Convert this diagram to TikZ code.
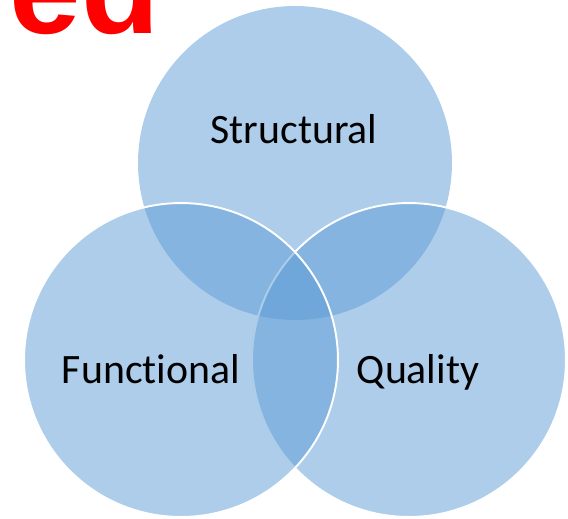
\documentclass[tikz,border=0pt]{standalone}
\usepackage{fontspec}
\setmainfont{Carlito}[Ligatures=NoCommon]
\newfontfamily\headfont{Liberation Sans}
\definecolor{venn}{HTML}{5B9BD5}
\definecolor{headred}{HTML}{FF0000}

\begin{document}
\begin{tikzpicture}[
    x=0.02cm, y=-0.02cm,
    set/.style={circle, fill=venn, fill opacity=0.5, minimum size=6.28cm, inner sep=0pt},
    rim/.style={draw=white, line width=1.1pt},
    setlabel/.style={anchor=base, inner sep=0pt, font=\fontsize{23.8}{28}\selectfont}
]
\useasboundingbox (0,0) rectangle (568,518);

% heading, cut by the page edge
\node[anchor=base east, inner sep=0pt, text=headred,
      font=\headfont\bfseries\fontsize{73}{76}\selectfont] (head) at (160,33) {ed};

% the three sets
\node[set] (S) at (295,163) {};
\node[set, rim] (Q) at (409,360) {};
\node[set, rim] (F) at (181,360) {};

% set names
\node[setlabel] (Slabel) at (294,143) {Structural};
\node[setlabel] (Flabel) at (151,383) {Functional};
\node[setlabel] (Qlabel) at (418,383) {Quality};

\end{tikzpicture}
\end{document}
